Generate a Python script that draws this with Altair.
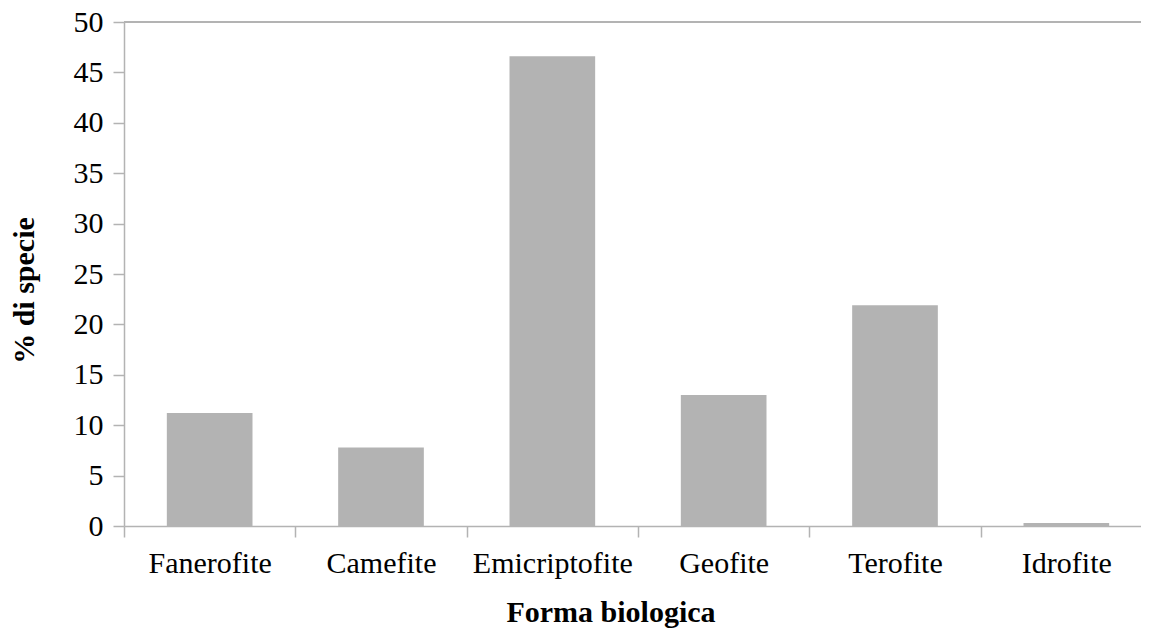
import altair as alt
import pandas as pd

categories = ["Fanerofite", "Camefite", "Emicriptofite", "Geofite", "Terofite", "Idrofite"]
percent = [11.2, 7.8, 46.6, 13.0, 21.9, 0.3]
y_ticks = [0, 5, 10, 15, 20, 25, 30, 35, 40, 45, 50]

df = pd.DataFrame({"forma": categories, "pct": percent})

FONT = "Liberation Serif"
GRAY = "#b3b3b3"
RANGE_W = 1028
STEP = RANGE_W / 6.0

y_scale = alt.Scale(domain=[0, 50], nice=False)

bars = alt.Chart(df).mark_bar(color=GRAY).encode(
    x=alt.X(
        "forma:N",
        sort=categories,
        scale=alt.Scale(range=[0, RANGE_W], paddingInner=0.5, paddingOuter=0.25),
        axis=alt.Axis(
            title="Forma biologica",
            titleFont=FONT, titleFontSize=30, titleFontWeight="bold", titleColor="#000000",
            titleX=486.5, titleY=95, titleAlign="center", titleBaseline="alphabetic",
            labelFont=FONT, labelFontSize=30, labelColor="#000000", labelAngle=0,
            labelPadding=11, labelBaseline="top",
            bandPosition=0.5, tickOffset=-STEP / 2, labelOffset=STEP / 2,
            tickSize=11, tickColor=GRAY, tickWidth=1.5,
            domainColor=GRAY, domainWidth=1.5, grid=False,
        ),
    ),
    y=alt.Y(
        "pct:Q",
        scale=y_scale,
        axis=alt.Axis(
            title="% di specie",
            titleFont=FONT, titleFontSize=30, titleFontWeight="bold", titleColor="#000000",
            titleX=-91, titleY=268, titleAngle=270, titleAlign="center", titleBaseline="alphabetic",
            values=y_ticks,
            labelFont=FONT, labelFontSize=30, labelColor="#000000", labelPadding=10,
            tickSize=11, tickColor=GRAY, tickWidth=1.5,
            domainColor=GRAY, domainWidth=1.5, grid=False,
        ),
    ),
)

top_line = alt.Chart(df).mark_rule(color=GRAY, strokeWidth=1.5).encode(
    y=alt.datum(50, scale=y_scale)
)

chart = alt.layer(bars, top_line).properties(
    width=1017,
    height=504,
    autosize=alt.AutoSizeParams(type="none"),
    padding={"left": 116, "top": 14, "right": 0, "bottom": 102},
).configure_view(strokeWidth=0)

chart.save("out.html", embed_options={"renderer": "svg", "actions": False})
